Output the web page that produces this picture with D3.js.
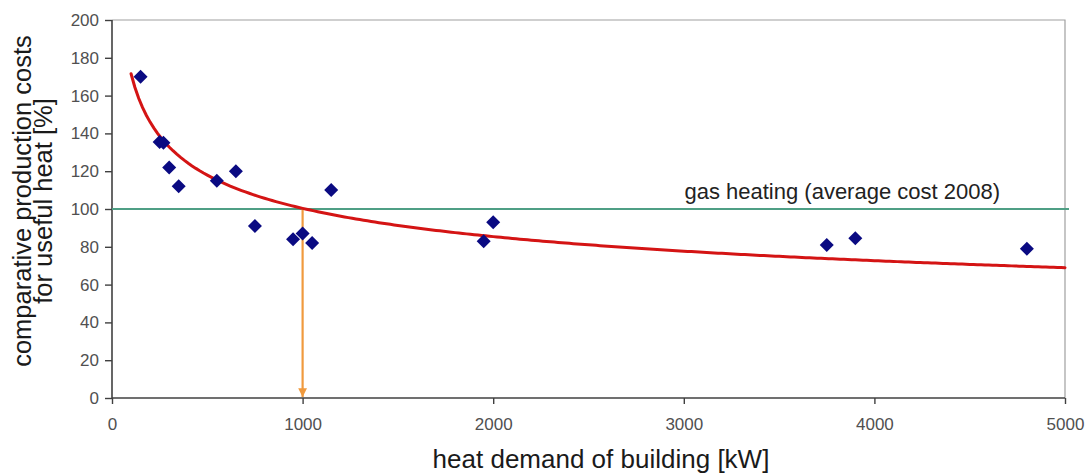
<!DOCTYPE html>
<html>
<head>
<meta charset="utf-8">
<script src="https://cdn.jsdelivr.net/npm/d3@7"></script>
<style>
  html, body { margin: 0; padding: 0; background: #ffffff; }
  svg { display: block; font-family: "Liberation Sans", Arial, sans-serif; }
</style>
</head>
<body>
<svg id="chart" width="1091" height="475"></svg>
<script>
// Heat demand of the building [kW] for each project
const heatDemand = [150, 250, 270, 300, 350, 550, 650, 750, 950, 1000, 1050, 1150, 1950, 2000, 3750, 3900, 4800];
// Comparative production cost of useful heat [%] for each project
const costPercent = [170, 135.5, 135, 122, 112, 115, 120, 91, 84, 87, 82, 110, 83, 93, 81, 84.5, 79];

// Power trend line y = a * x^b, drawn over its fitted range
const trendCoef = 501.4;
const trendExp = -0.2329;
const trendRange = [100, 5000];

// Reference level: gas heating, average cost 2008
const gasLevel = 100;
const gasLabel = "gas heating (average cost 2008)";
// Break-even building size marked by the arrow
const breakEven = 1000;

const xTicks = [0, 1000, 2000, 3000, 4000, 5000];
const yTicks = [0, 20, 40, 60, 80, 100, 120, 140, 160, 180, 200];

const xTitle = "heat demand of building [kW]";
const yTitleLines = ["comparative production costs", "for useful heat [%]"];

const svg = d3.select("#chart");

const x = d3.scaleLinear().domain([0, 5000]).range([112, 1065]);
const y = d3.scaleLinear().domain([0, 200]).range([398, 20]);

// plot frame (top and right edges)
svg.append("path")
  .attr("d", `M${x(0)},${y(200)}H${x(5000)}V${y(0)}`)
  .attr("fill", "none")
  .attr("stroke", "#a0a0a0")
  .attr("stroke-width", 1.2);

// axes
const yAxis = svg.append("g")
  .attr("transform", `translate(${x(0)},0)`)
  .call(d3.axisLeft(y).tickValues(yTicks).tickSize(7).tickPadding(6));
const xAxis = svg.append("g")
  .attr("transform", `translate(0,${y(0)})`)
  .call(d3.axisBottom(x).tickValues(xTicks).tickSize(6).tickPadding(14).tickFormat(d3.format("d")));

[yAxis, xAxis].forEach(g => {
  g.select(".domain").attr("stroke", "#404040").attr("stroke-width", 1.6);
  g.selectAll(".tick line").attr("stroke", "#404040").attr("stroke-width", 1.4);
  g.selectAll(".tick text")
    .attr("fill", "#505050")
    .style("font-size", "17px")
    .style("font-family", "'Liberation Sans', Arial, sans-serif");
});
xAxis.select(".domain").attr("d", `M${x(0)},0H${x(5000)}`);
yAxis.select(".domain").attr("d", `M0,${y(0)}V${y(200)}`);

// gas heating reference line
svg.append("line")
  .attr("x1", x(0)).attr("x2", x(5000) + 4)
  .attr("y1", y(gasLevel)).attr("y2", y(gasLevel))
  .attr("stroke", "#4f9f85")
  .attr("stroke-width", 2);

svg.append("text")
  .attr("x", 1000)
  .attr("y", y(gasLevel) - 10)
  .attr("text-anchor", "end")
  .attr("fill", "#222222")
  .style("font-size", "22px")
  .text(gasLabel);

// break-even arrow
svg.append("defs").append("marker")
  .attr("id", "arrowHead")
  .attr("viewBox", "0 0 10 10")
  .attr("refX", 10).attr("refY", 5)
  .attr("markerWidth", 4).attr("markerHeight", 4)
  .attr("markerUnits", "strokeWidth")
  .attr("orient", "auto")
  .append("path")
  .attr("d", "M0,0L10,5L0,10Z")
  .attr("fill", "#f09a3e");

svg.append("line")
  .attr("x1", x(breakEven)).attr("x2", x(breakEven))
  .attr("y1", y(gasLevel)).attr("y2", y(0) - 1)
  .attr("stroke", "#f09a3e")
  .attr("stroke-width", 2.2)
  .attr("marker-end", "url(#arrowHead)");

// power trend line
const trendX = d3.range(trendRange[0], trendRange[1] + 1, 20);
const trendLine = d3.line()
  .x(d => x(d))
  .y(d => y(trendCoef * Math.pow(d, trendExp)));
svg.append("path")
  .datum(trendX)
  .attr("d", trendLine)
  .attr("fill", "none")
  .attr("stroke", "#d41414")
  .attr("stroke-width", 3)
  .attr("stroke-linecap", "round");

// data points (diamonds)
const diamond = d3.symbol().type(d3.symbolSquare).size(98);
svg.append("g")
  .selectAll("path")
  .data(heatDemand.map((h, i) => ({ h, c: costPercent[i] })))
  .join("path")
  .attr("d", diamond)
  .attr("transform", d => `translate(${x(d.h)},${y(d.c)}) rotate(45)`)
  .attr("fill", "#0a0a82");

// axis titles
svg.append("text")
  .attr("x", 601)
  .attr("y", 468)
  .attr("text-anchor", "middle")
  .attr("fill", "#1a1a1a")
  .style("font-size", "26px")
  .text(xTitle);

const yTitle = svg.append("text")
  .attr("transform", "translate(31,201) rotate(-90)")
  .attr("text-anchor", "middle")
  .attr("fill", "#1a1a1a")
  .style("font-size", "25.5px");
yTitle.selectAll("tspan")
  .data(yTitleLines)
  .join("tspan")
  .attr("x", 0)
  .attr("dy", (d, i) => i === 0 ? 0 : 21)
  .text(d => d);
</script>
</body>
</html>
